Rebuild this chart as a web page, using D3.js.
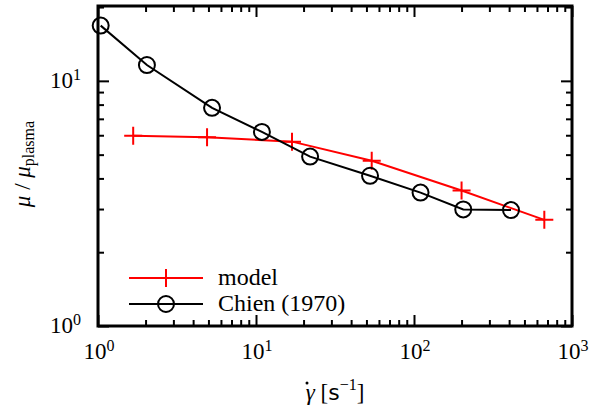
<!DOCTYPE html>
<html>
<head>
<meta charset="utf-8">
<script src="https://cdn.jsdelivr.net/npm/d3@7"></script>
<style>
  body { margin: 0; background: #fff; }
  svg text { font-family: "Liberation Serif", "DejaVu Serif", serif; }
</style>
</head>
<body>
<svg id="chart"></svg>
<script>
// data
const modelRate = [1.67, 4.9, 16.9, 54, 200, 668];
const modelVisc = [5.97, 5.89, 5.65, 4.72, 3.57, 2.71];
const chienRate = [1.04, 2.04, 5.27, 10.9, 22, 52.7, 110, 205, 411];
const chienVisc = [16.8, 11.6, 7.76, 6.19, 4.91, 4.1, 3.5, 2.99, 2.97];
const xMajor = [1, 10, 100, 1000];
const yMajor = [1, 10];
const seriesNames = ["model", "Chien (1970)"];

const width = 590;
const height = 410;
const plotLeft = 98;
const plotRight = 572;
const plotTop = 6;
const plotBottom = 326;

const svg = d3.select("#chart").attr("width", width).attr("height", height);

const xScale = d3.scaleLog().domain([1, 1000]).range([plotLeft, plotRight]);
const yScale = d3.scaleLog().domain([1, 20.2]).range([plotBottom, plotTop]);

// minor ticks (2..9 of each decade)
let xMinor = [];
[1, 10, 100].forEach((d) => {
  for (let k = 2; k <= 9; k++) xMinor.push(d * k);
});
let yMinor = [];
[1, 10].forEach((d) => {
  for (let k = 2; k <= 9; k++) if (d * k <= 20) yMinor.push(d * k);
});

const drawTicks = (axisFn, scale, values, size, transform) => {
  svg
    .append("g")
    .attr("transform", transform)
    .call(axisFn(scale).tickValues(values).tickSize(size).tickFormat(""))
    .call((g) => g.select(".domain").remove())
    .call((g) => g.selectAll("line").attr("stroke", "#000").attr("stroke-width", 2));
};

drawTicks(d3.axisBottom, xScale, xMinor, -6, "translate(0," + plotBottom + ")");
drawTicks(d3.axisBottom, xScale, xMajor, -11, "translate(0," + plotBottom + ")");
drawTicks(d3.axisTop, xScale, xMinor, -6, "translate(0," + plotTop + ")");
drawTicks(d3.axisTop, xScale, xMajor, -11, "translate(0," + plotTop + ")");
drawTicks(d3.axisLeft, yScale, yMinor, -6, "translate(" + plotLeft + ",0)");
drawTicks(d3.axisLeft, yScale, yMajor, -11, "translate(" + plotLeft + ",0)");
drawTicks(d3.axisRight, yScale, yMinor, -6, "translate(" + plotRight + ",0)");
drawTicks(d3.axisRight, yScale, yMajor, -11, "translate(" + plotRight + ",0)");

// tick labels 10^n
const powerLabel = (sel, v) => {
  sel.append("tspan").text("10");
  sel
    .append("tspan")
    .attr("dy", -8)
    .attr("font-size", 16)
    .text(Math.round(Math.log10(v)));
};
xMajor.forEach((v) => {
  const t = svg
    .append("text")
    .attr("x", xScale(v) + 1)
    .attr("y", 359)
    .attr("text-anchor", "middle")
    .attr("font-size", 23);
  powerLabel(t, v);
});
yMajor.forEach((v) => {
  const t = svg
    .append("text")
    .attr("x", 81)
    .attr("y", yScale(v) + 7)
    .attr("text-anchor", "end")
    .attr("font-size", 23);
  powerLabel(t, v);
});

// axis titles
const yTitle = svg
  .append("text")
  .attr("transform", "translate(30,164) rotate(-90)")
  .attr("text-anchor", "middle")
  .attr("font-size", 23);
yTitle.append("tspan").attr("font-style", "italic").text("μ");
yTitle.append("tspan").text(" / ");
yTitle.append("tspan").attr("font-style", "italic").text("μ");
yTitle.append("tspan").attr("font-size", 16).attr("dy", 4).text("plasma");

const xTitle = svg
  .append("text")
  .attr("x", 335)
  .attr("y", 400)
  .attr("text-anchor", "middle")
  .attr("font-size", 23);
xTitle.append("tspan").attr("font-style", "italic").text("γ");
xTitle.append("tspan").text(" [");
xTitle.append("tspan").attr("font-family", "DejaVu Sans").attr("font-size", 22).text("s");
xTitle.append("tspan").attr("font-size", 16).attr("dy", -10).text("−1");
xTitle.append("tspan").attr("dy", 10).text("]");
// dot accent over gamma
svg
  .append("circle")
  .attr("cx", 307)
  .attr("cy", 383)
  .attr("r", 1.5)
  .attr("fill", "#000");

// series
const line = d3
  .line()
  .x((d) => xScale(d[0]))
  .y((d) => yScale(d[1]));

const modelData = modelRate.map((r, i) => [r, modelVisc[i]]);
const chienData = chienRate.map((r, i) => [r, chienVisc[i]]);

const plus = (g, x, y, color) => {
  g.append("path")
    .attr("d", "M" + (x - 9) + "," + y + "H" + (x + 9) + "M" + x + "," + (y - 9) + "V" + (y + 9))
    .attr("stroke", color)
    .attr("stroke-width", 2)
    .attr("fill", "none");
};

const plot = svg.append("g");
plot
  .append("path")
  .datum(modelData)
  .attr("d", line)
  .attr("fill", "none")
  .attr("stroke", "#ff0000")
  .attr("stroke-width", 2);
modelData.forEach((d) => plus(plot, xScale(d[0]), yScale(d[1]), "#ff0000"));

plot
  .append("path")
  .datum(chienData)
  .attr("d", line)
  .attr("fill", "none")
  .attr("stroke", "#000")
  .attr("stroke-width", 2);
plot
  .selectAll("circle")
  .data(chienData)
  .enter()
  .append("circle")
  .attr("cx", (d) => xScale(d[0]))
  .attr("cy", (d) => yScale(d[1]))
  .attr("r", 8)
  .attr("fill", "none")
  .attr("stroke", "#000")
  .attr("stroke-width", 2);

// legend
const legend = svg.append("g");
const legY = [278, 304];
legend
  .append("line")
  .attr("x1", 129).attr("x2", 203)
  .attr("y1", legY[0]).attr("y2", legY[0])
  .attr("stroke", "#ff0000").attr("stroke-width", 2);
plus(legend, 166, legY[0], "#ff0000");
legend
  .append("line")
  .attr("x1", 129).attr("x2", 203)
  .attr("y1", legY[1]).attr("y2", legY[1])
  .attr("stroke", "#000").attr("stroke-width", 2);
legend
  .append("circle")
  .attr("cx", 166).attr("cy", legY[1]).attr("r", 8)
  .attr("fill", "none").attr("stroke", "#000").attr("stroke-width", 2);
seriesNames.forEach((name, i) => {
  legend
    .append("text")
    .attr("x", 218)
    .attr("y", legY[i] + 7)
    .attr("font-size", 24)
    .text(name);
});

// frame
svg
  .append("rect")
  .attr("x", plotLeft)
  .attr("y", plotTop)
  .attr("width", plotRight - plotLeft)
  .attr("height", plotBottom - plotTop)
  .attr("fill", "none")
  .attr("stroke", "#000")
  .attr("stroke-width", 3);
</script>
</body>
</html>
